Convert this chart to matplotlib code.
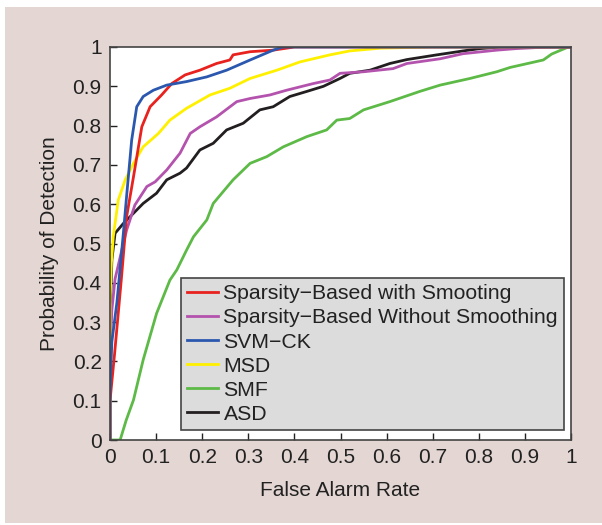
import matplotlib.pyplot as plt
from matplotlib.patches import Rectangle

plt.rcParams["font.family"] = ["Liberation Sans", "DejaVu Sans"]

labels = ["Sparsity\u2212Based with Smooting",
          "Sparsity\u2212Based Without Smoothing",
          "SVM\u2212CK", "MSD", "SMF", "ASD"]
colors = ["#e8221f", "#b453ae", "#2b58ae", "#fff000", "#5dba47", "#231f20"]

# ROC curves (false alarm rate, detection probability)
red_x = [0.0, 0.0, 0.01, 0.025, 0.036, 0.051, 0.069, 0.087, 0.112, 0.134,
         0.163, 0.195, 0.231, 0.26, 0.267, 0.304, 0.354, 0.40, 1.0]
red_y = [0.0, 0.10, 0.22, 0.415, 0.568, 0.67, 0.797, 0.848, 0.878, 0.907,
         0.929, 0.941, 0.958, 0.967, 0.98, 0.988, 0.992, 1.0, 1.0]

purple_x = [0.0, 0.0, 0.004, 0.011, 0.029, 0.036, 0.054, 0.08, 0.098, 0.123,
            0.152, 0.174, 0.195, 0.231, 0.275, 0.304, 0.347, 0.383, 0.441,
            0.477, 0.499, 0.55, 0.614, 0.644, 0.716, 0.766, 0.839, 0.882,
            0.95, 1.0]
purple_y = [0.0, 0.20, 0.33, 0.41, 0.50, 0.534, 0.598, 0.645, 0.657, 0.687,
            0.73, 0.78, 0.797, 0.822, 0.861, 0.869, 0.878, 0.89, 0.907,
            0.916, 0.933, 0.937, 0.945, 0.958, 0.97, 0.983, 0.992, 0.996,
            1.0, 1.0]

blue_x = [0.0, 0.0, 0.004, 0.015, 0.029, 0.036, 0.047, 0.058, 0.072, 0.094,
          0.123, 0.166, 0.21, 0.253, 0.304, 0.354, 0.375, 1.0]
blue_y = [0.0, 0.12, 0.25, 0.35, 0.526, 0.62, 0.763, 0.848, 0.874, 0.89,
          0.903, 0.912, 0.924, 0.941, 0.967, 0.992, 1.0, 1.0]

yellow_x = [0.0, 0.0, 0.003, 0.007, 0.018, 0.033, 0.051, 0.072, 0.105,
            0.13, 0.166, 0.217, 0.26, 0.304, 0.362, 0.412, 0.477, 0.52,
            0.586, 0.70, 0.80, 1.0]
yellow_y = [0.0, 0.35, 0.45, 0.517, 0.611, 0.662, 0.704, 0.746, 0.78,
            0.814, 0.844, 0.878, 0.895, 0.92, 0.941, 0.962, 0.98, 0.99,
            0.997, 1.0, 1.0, 1.0]

green_x = [0.0, 0.022, 0.035, 0.051, 0.072, 0.101, 0.13, 0.145, 0.166,
           0.181, 0.21, 0.224, 0.267, 0.304, 0.34, 0.376, 0.427, 0.47,
           0.492, 0.52, 0.55, 0.607, 0.672, 0.716, 0.781, 0.839, 0.868,
           0.94, 0.958, 0.994, 1.0]
green_y = [0.0, 0.0, 0.05, 0.102, 0.204, 0.322, 0.407, 0.433, 0.483,
           0.517, 0.56, 0.602, 0.662, 0.704, 0.721, 0.746, 0.772, 0.789,
           0.814, 0.818, 0.84, 0.861, 0.887, 0.903, 0.92, 0.937, 0.948,
           0.967, 0.982, 1.0, 1.0]

black_x = [0.0, 0.0, 0.004, 0.011, 0.029, 0.051, 0.072, 0.101, 0.123,
           0.152, 0.166, 0.195, 0.224, 0.253, 0.289, 0.325, 0.354, 0.39,
           0.427, 0.463, 0.499, 0.52, 0.564, 0.607, 0.644, 0.709, 0.766,
           0.803, 0.85, 1.0]
black_y = [0.0, 0.30, 0.458, 0.526, 0.551, 0.577, 0.602, 0.628, 0.662,
           0.679, 0.692, 0.738, 0.755, 0.789, 0.806, 0.84, 0.848, 0.874,
           0.887, 0.9, 0.92, 0.933, 0.941, 0.958, 0.968, 0.98, 0.99,
           0.996, 1.0, 1.0]

curves = [(red_x, red_y), (purple_x, purple_y), (blue_x, blue_y),
          (yellow_x, yellow_y), (green_x, green_y), (black_x, black_y)]

ticks = [0, 0.1, 0.2, 0.3, 0.4, 0.5, 0.6, 0.7, 0.8, 0.9, 1]
tick_labels = ["0", "0.1", "0.2", "0.3", "0.4", "0.5", "0.6", "0.7", "0.8",
               "0.9", "1"]

fig = plt.figure(figsize=(6.02, 5.25), dpi=100, facecolor="white")
fig.patches.append(Rectangle((5 / 602, 2 / 525), 1, 516 / 525,
                             transform=fig.transFigure, facecolor="#e4d7d3",
                             edgecolor="none", zorder=-10))

ax = fig.add_axes([110 / 602, 85 / 525, 461 / 602, 393 / 525])
ax.set_facecolor("white")

# draw back to front so the red and blue sit on top like the original
order = [4, 5, 1, 3, 0, 2]
lines = {}
for i in order:
    x, y = curves[i]
    lines[i], = ax.plot(x, y, color=colors[i], lw=2.0, label=labels[i],
                        solid_joinstyle="round")

ax.set_xlim(0, 1)
ax.set_ylim(0, 1)
ax.set_xticks(ticks)
ax.set_xticklabels(tick_labels)
ax.set_yticks(ticks)
ax.set_yticklabels(tick_labels)
ax.tick_params(direction="in", length=5, width=1, labelsize=15,
               colors="#222222", top=False, right=False, pad=6)
for s in ax.spines.values():
    s.set_color("#444444")
    s.set_linewidth(1.2)

ax.set_xlabel("False Alarm Rate", fontsize=15, color="#222222", labelpad=10)
ax.set_ylabel("Probability of Detection", fontsize=15, color="#222222",
              labelpad=10)

leg = ax.legend([lines[i] for i in range(6)], labels, loc="lower left",
                bbox_to_anchor=(0.154, 0.025), borderaxespad=0,
                fontsize=15.3, frameon=True, fancybox=False,
                handlelength=1.45, handletextpad=0.25, labelspacing=0.24,
                borderpad=0.3)
leg.get_frame().set_facecolor("#dcdcdc")
leg.get_frame().set_edgecolor("#444444")
leg.get_frame().set_linewidth(1.2)
leg.get_frame().set_alpha(1)
for t in leg.get_texts():
    t.set_color("#222222")

fig.savefig("out.png", dpi=100, facecolor=fig.get_facecolor())
